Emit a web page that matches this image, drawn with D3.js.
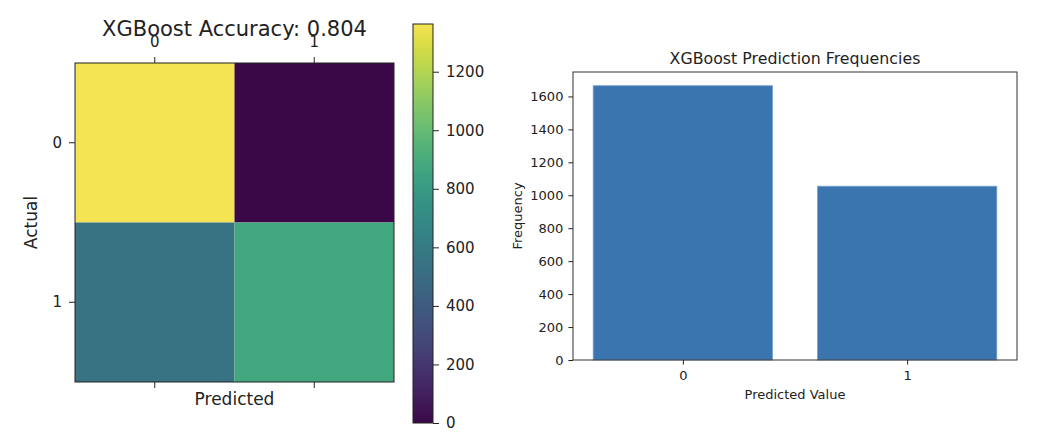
<!DOCTYPE html>
<html>
<head>
<meta charset="utf-8">
<script src="https://cdn.jsdelivr.net/npm/d3@7/dist/d3.min.js"></script>
<style>
  body { margin: 0; background: #fff; }
  text { font-family: "DejaVu Sans", sans-serif; fill: #222; }
</style>
</head>
<body>
<svg id="chart" width="1038" height="442"></svg>
<script>
// Confusion matrix (rows = actual, cols = predicted)
const classes = [0, 1];
const confusion = [
    [1363, 0],
    [545, 870]
];
const colorbarTicks = [0, 200, 400, 600, 800, 1000, 1200];

// Prediction frequencies
const predictedValues = [0, 1];
const predictedCounts = [1665, 1055];
const freqTicks = [0, 200, 400, 600, 800, 1000, 1200, 1400, 1600];

const svg = d3.select("#chart");

// the reference image has slightly muted colours, so pull viridis a bit towards grey
const muted = (t) => {
    const c = d3.rgb(d3.interpolateViridis(t));
    const lum = 0.3 * c.r + 0.59 * c.g + 0.11 * c.b;
    const k = 0.25;
    return d3.rgb(c.r + (lum - c.r) * k, c.g + (lum - c.g) * k, c.b + (lum - c.b) * k).formatHex();
};

// ---------- left: confusion matrix ----------
const hm = { left: 75, top: 63, size: 319 };

const cells = [];
confusion.forEach((row, r) => row.forEach((v, c) => cells.push({ r, c, v })));

const xBand = d3.scaleBand().domain(classes).range([hm.left, hm.left + hm.size]);
const yBand = d3.scaleBand().domain(classes).range([hm.top, hm.top + hm.size]);
const [minVal, maxVal] = d3.extent(cells, d => d.v);
const color = d3.scaleSequential(muted).domain([minVal, maxVal]);

svg.append("g")
    .selectAll("rect")
    .data(cells)
    .enter()
    .append("rect")
    .attr("x", d => xBand(d.c))
    .attr("y", d => yBand(d.r))
    .attr("width", xBand.bandwidth())
    .attr("height", yBand.bandwidth())
    .attr("fill", d => color(d.v));

svg.append("rect")
    .attr("x", hm.left).attr("y", hm.top)
    .attr("width", hm.size).attr("height", hm.size)
    .attr("fill", "none").attr("stroke", "#222").attr("stroke-width", 1);

const tickLine = (g) => g.call(s => s.select(".domain").remove())
    .call(s => s.selectAll("line").attr("stroke", "#222"));

// top axis with labels
svg.append("g")
    .attr("transform", `translate(0,${hm.top})`)
    .call(d3.axisTop(xBand).tickSize(6).tickPadding(10))
    .call(tickLine)
    .call(g => g.selectAll("text").style("font-size", "15px").attr("font-family", null));

// bottom ticks, no labels
svg.append("g")
    .attr("transform", `translate(0,${hm.top + hm.size})`)
    .call(d3.axisBottom(xBand).tickSize(6).tickFormat(""))
    .call(tickLine);

svg.append("g")
    .attr("transform", `translate(${hm.left},0)`)
    .call(d3.axisLeft(yBand).tickSize(6).tickPadding(7))
    .call(tickLine)
    .call(g => g.selectAll("text").style("font-size", "15px").attr("font-family", null));

svg.append("text")
    .attr("x", hm.left + hm.size / 2)
    .attr("y", 35.5)
    .attr("text-anchor", "middle")
    .style("font-size", "21px")
    .text("XGBoost Accuracy: 0.804");

svg.append("text")
    .attr("x", hm.left + hm.size / 2)
    .attr("y", 405)
    .attr("text-anchor", "middle")
    .style("font-size", "17px")
    .text("Predicted");

svg.append("text")
    .attr("transform", `translate(36.5,${hm.top + hm.size / 2}) rotate(-90)`)
    .attr("text-anchor", "middle")
    .style("font-size", "17px")
    .text("Actual");

// colorbar
const cb = { left: 413, width: 20, top: 24, bottom: 423 };
const cbScale = d3.scaleLinear().domain([minVal, maxVal]).range([cb.bottom, cb.top]);

const grad = svg.append("defs").append("linearGradient")
    .attr("id", "viridis")
    .attr("x1", 0).attr("y1", 1).attr("x2", 0).attr("y2", 0);
d3.range(0, 1.0001, 0.05).forEach(t => {
    grad.append("stop").attr("offset", t).attr("stop-color", muted(t));
});

svg.append("rect")
    .attr("x", cb.left).attr("y", cb.top)
    .attr("width", cb.width).attr("height", cb.bottom - cb.top)
    .attr("fill", "url(#viridis)")
    .attr("stroke", "#222").attr("stroke-width", 1);

svg.append("g")
    .attr("transform", `translate(${cb.left + cb.width},0)`)
    .call(d3.axisRight(cbScale).tickValues(colorbarTicks).tickFormat(d3.format("d")).tickSize(6).tickPadding(7))
    .call(tickLine)
    .call(g => g.selectAll("text").style("font-size", "15px").attr("font-family", null));

// ---------- right: prediction frequencies ----------
const bc = { left: 573, top: 72, width: 444, height: 288 };

const xLin = d3.scaleLinear()
    .domain([-0.49, 1.49])
    .range([bc.left, bc.left + bc.width]);
const yLin = d3.scaleLinear()
    .domain([0, d3.max(predictedCounts) * 1.05])
    .range([bc.top + bc.height, bc.top]);
const barWidth = 0.8;

svg.append("g")
    .selectAll("rect")
    .data(predictedValues)
    .enter()
    .append("rect")
    .attr("x", (d) => xLin(d - barWidth / 2))
    .attr("y", (d, i) => yLin(predictedCounts[i]))
    .attr("width", xLin(barWidth) - xLin(0))
    .attr("height", (d, i) => yLin(0) - yLin(predictedCounts[i]))
    .attr("fill", "#3b75af")
    .attr("stroke", "#7ba4cf")
    .attr("stroke-width", 0.8);

svg.append("rect")
    .attr("x", bc.left).attr("y", bc.top)
    .attr("width", bc.width).attr("height", bc.height)
    .attr("fill", "none").attr("stroke", "#333").attr("stroke-width", 1);

svg.append("g")
    .attr("transform", `translate(0,${bc.top + bc.height})`)
    .call(d3.axisBottom(xLin).tickValues(predictedValues).tickFormat(d3.format("d")).tickSize(4.6).tickPadding(6))
    .call(tickLine)
    .call(g => g.selectAll("text").style("font-size", "13px").attr("font-family", null));

svg.append("g")
    .attr("transform", `translate(${bc.left},0)`)
    .call(d3.axisLeft(yLin).tickValues(freqTicks).tickFormat(d3.format("d")).tickSize(4.6).tickPadding(5))
    .call(tickLine)
    .call(g => g.selectAll("text").style("font-size", "13px").attr("font-family", null));

svg.append("text")
    .attr("x", bc.left + bc.width / 2)
    .attr("y", 64)
    .attr("text-anchor", "middle")
    .style("font-size", "15.8px")
    .text("XGBoost Prediction Frequencies");

svg.append("text")
    .attr("x", bc.left + bc.width / 2)
    .attr("y", 399)
    .attr("text-anchor", "middle")
    .style("font-size", "13px")
    .text("Predicted Value");

svg.append("text")
    .attr("transform", `translate(522,${bc.top + bc.height / 2}) rotate(-90)`)
    .attr("text-anchor", "middle")
    .style("font-size", "13px")
    .text("Frequency");
</script>
</body>
</html>
